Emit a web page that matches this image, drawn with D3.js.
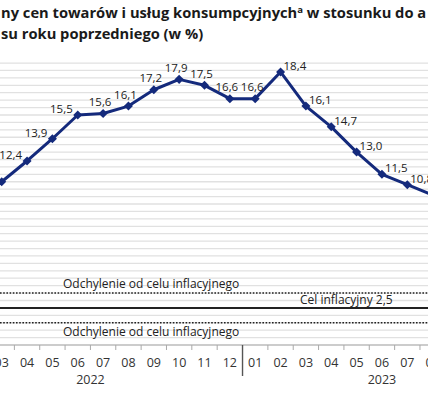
<!doctype html>
<html lang="pl">
<head>
    <meta charset="UTF-8">
    <title>Inflacja CPI</title>
    <script src="https://cdn.jsdelivr.net/npm/d3@7"></script>
    <style>
        html, body { margin: 0; padding: 0; background: #fff; }
        svg { display: block; font-family: "Open Sans", sans-serif; }
        .grid line { stroke: #e1e1e1; stroke-width: 1.3; }
        .lbl { font-size: 11.5px; fill: #222; }
        .axis text { font-size: 12.5px; fill: #333; }
        .note { font-size: 12px; fill: #222; }
    </style>
</head>
<body>
<script>

    var w = 428;
    var h = 400;

    // months shown on the axis (window 2022-01 .. 2023-11)
    var months = ["2022-01", "2022-02", "2022-03", "2022-04", "2022-05", "2022-06", "2022-07", "2022-08",
        "2022-09", "2022-10", "2022-11", "2022-12", "2023-01", "2023-02", "2023-03", "2023-04",
        "2023-05", "2023-06", "2023-07", "2023-08", "2023-09", "2023-10", "2023-11"];
    var years = ["2022", "2023"];

    // visible series
    var categories = ["2022-03", "2022-04", "2022-05", "2022-06", "2022-07", "2022-08", "2022-09",
        "2022-10", "2022-11", "2022-12", "2023-01", "2023-02", "2023-03", "2023-04", "2023-05",
        "2023-06", "2023-07", "2023-08"];
    var values = [11.0, 12.4, 13.9, 15.5, 15.6, 16.1, 17.2, 17.9, 17.5, 16.6, 16.6, 18.4, 16.1, 14.7,
        13.0, 11.5, 10.8, 10.1];

    var target = 2.5;
    var band = [1.5, 3.5];

    // title as it shows in the (cropped) source
    var titleLines = [
        ["ny cen towarów i usług konsumpcyjnych", "a", " w stosunku do a"],
        ["su roku poprzedniego (w %)"]
    ];

    var bw = 25.35;
    var x0 = 1.7 - 2 * bw - bw / 2;   // start of 2022-01 band
    var xScale = d3.scaleBand()
        .domain(months)
        .range([x0, x0 + months.length * bw])
        .paddingInner(0).paddingOuter(0);

    var yScale = d3.scaleLinear()
        .domain([0, 19])
        .range([345, 345 - 19 * 14.84]);

    var svg = d3.select("body").append("svg")
        .attr("width", w)
        .attr("height", h);

    var fmt = function (v) { return v.toFixed(1).replace(".", ","); };
    var cx = function (d) { return xScale(d) + xScale.bandwidth() / 2; };

    // title
    var title = svg.append("g")
        .attr("font-weight", "bold").attr("font-size", "14.7px")
        .attr("fill", "#1a1a1a");
    titleLines.forEach(function (parts, i) {
        var t = title.append("text")
            .attr("x", 1)
            .attr("y", 18 + i * 21);
        t.append("tspan").text(parts[0]);
        if (parts.length > 1) {
            t.append("tspan").text(parts[1]).attr("font-size", "9.5px").attr("dy", -5);
            t.append("tspan").text(parts[2]).attr("dy", 5);
        }
    });

    // gridlines every 0.5
    svg.append("g").attr("class", "grid")
        .selectAll("line")
        .data(d3.range(1, 39).map(function (k) { return k / 2; }))
        .enter().append("line")
        .attr("x1", 0).attr("x2", w)
        .attr("y1", function (d) { return yScale(d); })
        .attr("y2", function (d) { return yScale(d); });

    // target band
    svg.selectAll(".dev")
        .data(band)
        .enter().append("line")
        .attr("class", "dev")
        .attr("x1", 0).attr("x2", w)
        .attr("y1", function (d) { return yScale(d); })
        .attr("y2", function (d) { return yScale(d); })
        .attr("stroke", "#222")
        .attr("stroke-width", 1.4)
        .attr("stroke-dasharray", "1.6,1.6");

    svg.append("line")
        .attr("x1", 0).attr("x2", w)
        .attr("y1", yScale(target)).attr("y2", yScale(target))
        .attr("stroke", "#222")
        .attr("stroke-width", 2);

    svg.append("text").attr("class", "note")
        .attr("x", 63).attr("y", yScale(band[1]) - 5)
        .text("Odchylenie od celu inflacyjnego");
    svg.append("text").attr("class", "note")
        .attr("x", 63).attr("y", yScale(band[0]) + 13)
        .text("Odchylenie od celu inflacyjnego");
    svg.append("text").attr("class", "note")
        .attr("x", 300).attr("y", yScale(target) - 3.5)
        .text("Cel inflacyjny " + fmt(target));

    // x axis
    var axis = svg.append("g").attr("class", "axis");
    axis.append("line")
        .attr("x1", 0).attr("x2", w)
        .attr("y1", yScale(0)).attr("y2", yScale(0))
        .attr("stroke", "#9a9a9a").attr("stroke-width", 1.2);

    axis.selectAll(".tk")
        .data(months.slice(1))
        .enter().append("line")
        .attr("x1", function (d) { return xScale(d); })
        .attr("x2", function (d) { return xScale(d); })
        .attr("y1", yScale(0))
        .attr("y2", function (d) { return d.slice(5) === "01" ? yScale(0) + 31 : yScale(0) + 5; })
        .attr("stroke", function (d) { return d.slice(5) === "01" ? "#555" : "#aaa"; })
        .attr("stroke-width", function (d) { return d.slice(5) === "01" ? 1.4 : 1; });

    axis.selectAll(".mo")
        .data(months)
        .enter().append("text")
        .attr("x", cx)
        .attr("y", yScale(0) + 22)
        .attr("text-anchor", "middle")
        .text(function (d) { return d.slice(5); });

    axis.selectAll(".yr")
        .data(years)
        .enter().append("text")
        .attr("x", function (yr) {
            var ms = months.filter(function (m) { return m.slice(0, 4) === yr; });
            return (cx(ms[0]) + cx(ms[ms.length - 1])) / 2;
        })
        .attr("y", yScale(0) + 39)
        .attr("text-anchor", "middle")
        .text(function (d) { return d; });

    // series
    var pts = categories.map(function (c, i) { return {c: c, v: values[i], i: i}; });

    var line = d3.line()
        .x(function (d) { return cx(d.c); })
        .y(function (d) { return yScale(d.v); });

    var navy = "#142a7c";
    svg.append("path")
        .datum(pts)
        .attr("d", line)
        .attr("fill", "none")
        .attr("stroke", navy)
        .attr("stroke-width", 3)
        .attr("stroke-linejoin", "round");

    svg.selectAll(".mk")
        .data(pts)
        .enter().append("path")
        .attr("class", "mk")
        .attr("d", d3.symbol(d3.symbolDiamond2, 52))
        .attr("transform", function (d) { return "translate(" + cx(d.c) + "," + yScale(d.v) + ")"; })
        .attr("fill", navy);

    // labels: left of point on the rise, above on the plateau, right on the fall
    var side = function (d) {
        if (d.c < "2022-07") return "left";
        if (d.c < "2023-02") return "top";
        return "right";
    };
    svg.selectAll(".lbl")
        .data(pts)
        .enter().append("text")
        .attr("class", "lbl")
        .attr("x", function (d) {
            var s = side(d);
            return cx(d.c) + (s === "left" ? -5 : s === "top" ? -3 : 3);
        })
        .attr("y", function (d) {
            return yScale(d.v) + (side(d) === "top" ? -11.5 : -6) + 4;
        })
        .attr("text-anchor", function (d) {
            var s = side(d);
            return s === "left" ? "end" : s === "top" ? "middle" : "start";
        })
        .text(function (d) { return fmt(d.v); });

</script>
</body>
</html>
